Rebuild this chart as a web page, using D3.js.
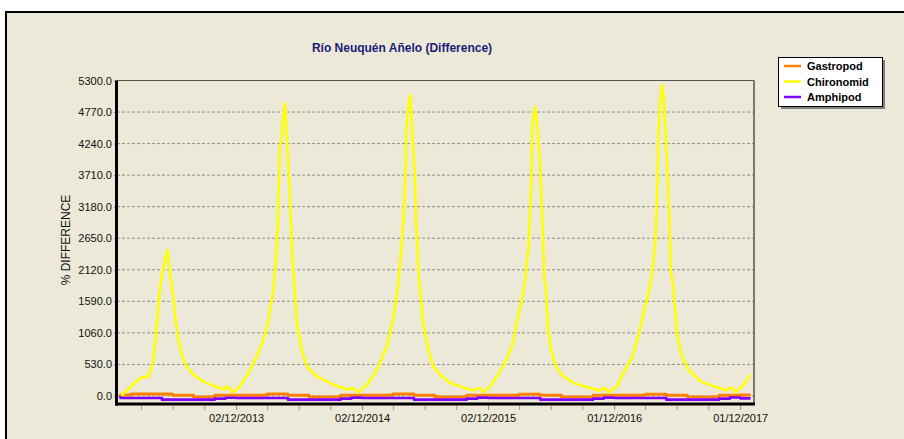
<!DOCTYPE html>
<html>
<head>
<meta charset="utf-8">
<script src="https://cdn.jsdelivr.net/npm/d3@7"></script>
<style>
  body { margin: 0; background: #fff; }
  svg { display: block; font-family: "Liberation Sans", Arial, sans-serif; }
</style>
</head>
<body>
<svg id="chart" width="904" height="439"></svg>
<script>
// series names + colours (legend order)
const seriesNames = ["Gastropod", "Chironomid", "Amphipod"];
const seriesColors = ["#FF8000", "#FFFF00", "#8000FF"];

// y ticks
const yTicks = [0, 530, 1060, 1590, 2120, 2650, 3180, 3710, 4240, 4770, 5300];

// x tick labels (dd/mm/yyyy)
const xTickLabels = ["02/12/2013", "02/12/2014", "02/12/2015", "01/12/2016", "01/12/2017"];

// Chironomid (date, % difference)
const chironomidDates = [
  "2013-01-03","2013-02-27","2013-03-23","2013-04-06","2013-04-16","2013-04-24","2013-04-30","2013-05-10","2013-05-17","2013-05-25",
  "2013-06-03","2013-06-11","2013-06-18","2013-06-28","2013-07-12","2013-07-31","2013-08-29","2013-10-07","2013-10-31","2013-11-04",
  "2013-11-11","2013-11-22","2013-12-13","2014-01-07","2014-01-31","2014-02-19","2014-03-06","2014-03-20","2014-03-30","2014-04-03",
  "2014-04-08","2014-04-13","2014-04-18","2014-04-22","2014-04-28","2014-05-02","2014-05-07","2014-05-12","2014-05-17","2014-05-27",
  "2014-06-10","2014-06-25","2014-07-24","2014-09-10","2014-10-23","2014-11-02","2014-11-08","2014-11-21","2014-12-16","2015-01-14",
  "2015-02-12","2015-03-03","2015-03-17","2015-03-30","2015-04-04","2015-04-07","2015-04-10","2015-04-15","2015-04-20","2015-04-25",
  "2015-04-29","2015-05-05","2015-05-07","2015-05-11","2015-05-16","2015-05-19","2015-05-28","2015-06-12","2015-06-26","2015-07-16",
  "2015-08-14","2015-09-12","2015-10-20","2015-11-04","2015-11-12","2015-11-18","2015-12-08","2015-12-27","2016-01-20","2016-02-09",
  "2016-02-23","2016-03-09","2016-03-18","2016-03-25","2016-03-28","2016-04-04","2016-04-08","2016-04-11","2016-04-16","2016-04-24",
  "2016-04-30","2016-05-06","2016-05-10","2016-05-13","2016-05-18","2016-05-22","2016-05-30","2016-06-13","2016-07-02","2016-08-05",
  "2016-09-22","2016-10-21","2016-11-03","2016-11-09","2016-11-14","2016-12-09","2016-12-28","2017-01-21","2017-02-09","2017-02-24",
  "2017-03-15","2017-03-25","2017-03-30","2017-04-04","2017-04-08","2017-04-13","2017-04-20","2017-04-25","2017-04-30","2017-05-06",
  "2017-05-10","2017-05-14","2017-05-22","2017-06-01","2017-06-15","2017-07-04","2017-08-08","2017-09-16","2017-10-25","2017-11-03",
  "2017-11-09","2017-11-17","2017-12-06","2017-12-21","2017-12-30"
];
const chironomidValues = [
  0, 302, 329, 580, 1167, 1727, 2000, 2286, 2453, 2062,
  1670, 1224, 944, 693, 496, 357, 245, 151, 106, 161,
  150, 60, 161, 386, 664, 944, 1280, 1783, 2509, 3180,
  4186, 4354, 4746, 4914, 4354, 3907, 3347, 2566, 2062, 1224,
  776, 496, 329, 190, 106, 134, 120, 60, 190, 441,
  832, 1335, 1895, 2789, 3347, 3907, 4521, 4857, 5053, 4578,
  4186, 3515, 2957, 2509, 1950, 1783, 1224, 776, 496, 357,
  218, 161, 94, 134, 120, 60, 161, 329, 553, 832,
  1224, 1615, 1950, 2341, 2509, 3347, 4466, 4718, 4857, 4466,
  3907, 3069, 2509, 1950, 1783, 1224, 832, 525, 357, 218,
  134, 94, 134, 120, 60, 161, 386, 637, 1000, 1392,
  1838, 2286, 2566, 3236, 4354, 4914, 5221, 4914, 4354, 3515,
  2957, 2118, 1783, 1056, 664, 441, 245, 161, 94, 145,
  130, 60, 161, 273, 357
];

// Gastropod / Amphipod, monthly steps (Jan 2013 .. Dec 2017)
const gastropodValues = [
  15, 33, 33, 33, 33, 10, 10, -17, -17, 10, 10, 10,
  10, 10, 33, 33, 10, 10, -17, -17, -17, 10, 10, 10,
  10, 10, 33, 33, 10, 10, -17, -17, -17, 10, 10, 10,
  10, 10, 30, 30, 10, 10, -17, -17, -17, 10, 10, 10,
  10, 10, 30, 30, 10, 10, -17, -17, -17, 10, 10, 15
];
const amphipodValues = [
  -34, -34, -34, -34, -62, -62, -62, -62, -62, -45, -30, -34,
  -34, -34, -34, -34, -62, -62, -62, -62, -62, -45, -28, -34,
  -34, -34, -34, -34, -62, -62, -62, -62, -62, -45, -28, -34,
  -34, -34, -34, -34, -62, -62, -62, -62, -62, -45, -28, -34,
  -34, -34, -34, -34, -62, -62, -62, -62, -62, -45, -25, -40
];

const parseDate = d3.utcParse("%Y-%m-%d");
const parseTick = d3.utcParse("%d/%m/%Y");

function drawChart() {
  const svg = d3.select("#chart");

  // frame
  svg.append("rect")
    .attr("x", 6).attr("y", 12)
    .attr("width", 910).attr("height", 440)
    .attr("fill", "#ECE9D8")
    .attr("stroke", "#000").attr("stroke-width", 2);

  const left = 117, right = 754, top = 80.5, bottom = 404;

  const x = d3.scaleUtc()
    .domain([parseDate("2012-12-22"), parseDate("2018-01-10")])
    .range([left, right]);

  const y = d3.scaleLinear()
    .domain([-135, 5300])
    .range([bottom, top]);

  // title
  svg.append("text")
    .attr("x", 402).attr("y", 52)
    .attr("text-anchor", "middle")
    .attr("font-size", "12px").attr("font-weight", "bold")
    .attr("fill", "#1C1C78")
    .text("Río Neuquén Añelo (Difference)");

  // grid
  svg.append("g").selectAll("line")
    .data(yTicks)
    .join("line")
    .attr("x1", left).attr("x2", right)
    .attr("y1", d => y(d)).attr("y2", d => y(d))
    .attr("stroke", "#8f8f8f").attr("stroke-width", 1)
    .attr("stroke-dasharray", "3,2");

  // y axis
  const yAxis = d3.axisLeft(y)
    .tickValues(yTicks)
    .tickFormat(d3.format(".1f"))
    .tickSize(2).tickPadding(2);
  const gy = svg.append("g")
    .attr("transform", `translate(${left - 1},0)`)
    .call(yAxis);
  gy.select(".domain").remove();
  gy.selectAll(".tick line").attr("stroke", "#888");
  gy.selectAll(".tick text")
    .attr("font-size", "11px")
    .attr("fill", "#111")
    .attr("font-family", "Liberation Sans, Arial, sans-serif");

  svg.append("text")
    .attr("transform", `translate(70,240) rotate(-90)`)
    .attr("text-anchor", "middle")
    .attr("font-size", "12px")
    .attr("fill", "#111")
    .text("% DIFFERENCE");

  // x axis: major ticks every year, minor every quarter
  const majorTicks = xTickLabels.map(parseTick);
  const minorTicks = [];
  majorTicks.forEach((t, i) => {
    [-3, -2, -1, 1, 2, 3].forEach(k => {
      if (k < 0 && i > 0) return;
      const m = d3.utcDay.offset(t, Math.round(k * 365 / 4));
      if (m > x.domain()[0] && m < x.domain()[1]) minorTicks.push(m);
    });
  });

  svg.append("g").selectAll("line")
    .data(minorTicks)
    .join("line")
    .attr("x1", d => x(d)).attr("x2", d => x(d))
    .attr("y1", bottom + 2).attr("y2", bottom + 6)
    .attr("stroke", "#999");

  const xAxis = d3.axisBottom(x)
    .tickValues(majorTicks)
    .tickFormat(d3.utcFormat("%d/%m/%Y"))
    .tickSize(5).tickPadding(4);
  const gx = svg.append("g")
    .attr("transform", `translate(0,${bottom + 1})`)
    .call(xAxis);
  gx.select(".domain").remove();
  gx.selectAll(".tick line").attr("stroke", "#888");
  gx.selectAll(".tick text")
    .attr("font-size", "11px")
    .attr("fill", "#111")
    .attr("font-family", "Liberation Sans, Arial, sans-serif");

  // series
  const monthStarts = d3.utcMonths(parseDate("2013-01-01"), parseDate("2018-01-01"));
  const stepPoints = vals => {
    const pts = monthStarts.map((d, i) => [d, vals[i]]);
    pts.push([parseDate("2017-12-31"), vals[vals.length - 1]]);
    return pts;
  };
  const series = [
    { name: "Gastropod", pts: stepPoints(gastropodValues), curve: d3.curveStepAfter, width: 3 },
    { name: "Chironomid", pts: chironomidDates.map((d, i) => [parseDate(d), chironomidValues[i]]), curve: d3.curveLinear, width: 2.6 },
    { name: "Amphipod", pts: stepPoints(amphipodValues), curve: d3.curveStepAfter, width: 2.6 }
  ];
  // all three start at zero
  series[0].pts.unshift([parseDate("2013-01-01"), 0]);
  series[2].pts.unshift([parseDate("2013-01-01"), 0]);

  series.forEach(s => {
    const line = d3.line()
      .x(d => x(d[0]))
      .y(d => y(d[1]))
      .curve(s.curve);
    svg.append("path")
      .datum(s.pts)
      .attr("d", line)
      .attr("fill", "none")
      .attr("stroke", seriesColors[seriesNames.indexOf(s.name)])
      .attr("stroke-width", s.width)
      .attr("stroke-linejoin", "round");
  });

  // plot border
  svg.append("line").attr("x1", left).attr("x2", right).attr("y1", top).attr("y2", top)
    .attr("stroke", "#555").attr("stroke-width", 1);
  svg.append("line").attr("x1", right).attr("x2", right).attr("y1", top).attr("y2", bottom)
    .attr("stroke", "#555").attr("stroke-width", 1.5);
  svg.append("line").attr("x1", left - 0.5).attr("x2", left - 0.5).attr("y1", top).attr("y2", bottom + 1.5)
    .attr("stroke", "#000").attr("stroke-width", 3);
  svg.append("line").attr("x1", left - 2).attr("x2", right + 1).attr("y1", bottom).attr("y2", bottom)
    .attr("stroke", "#000").attr("stroke-width", 3);

  // legend
  const lg = svg.append("g").attr("transform", "translate(778,57)");
  lg.append("rect")
    .attr("x", 3).attr("y", 3).attr("width", 104).attr("height", 49)
    .attr("fill", "#808080");
  lg.append("rect")
    .attr("x", 0.5).attr("y", 0.5).attr("width", 104).attr("height", 49)
    .attr("fill", "#fff").attr("stroke", "#000");
  const items = lg.selectAll("g.item")
    .data(seriesNames)
    .join("g")
    .attr("class", "item")
    .attr("transform", (d, i) => `translate(0,${9 + i * 15.5})`);
  items.append("line")
    .attr("x1", 6).attr("x2", 23)
    .attr("stroke", (d, i) => seriesColors[i])
    .attr("stroke-width", 2.5);
  items.append("text")
    .attr("x", 29).attr("y", 4)
    .attr("font-size", "11px").attr("font-weight", "bold")
    .attr("fill", "#000")
    .text(d => d);
}

drawChart();
</script>
</body>
</html>
